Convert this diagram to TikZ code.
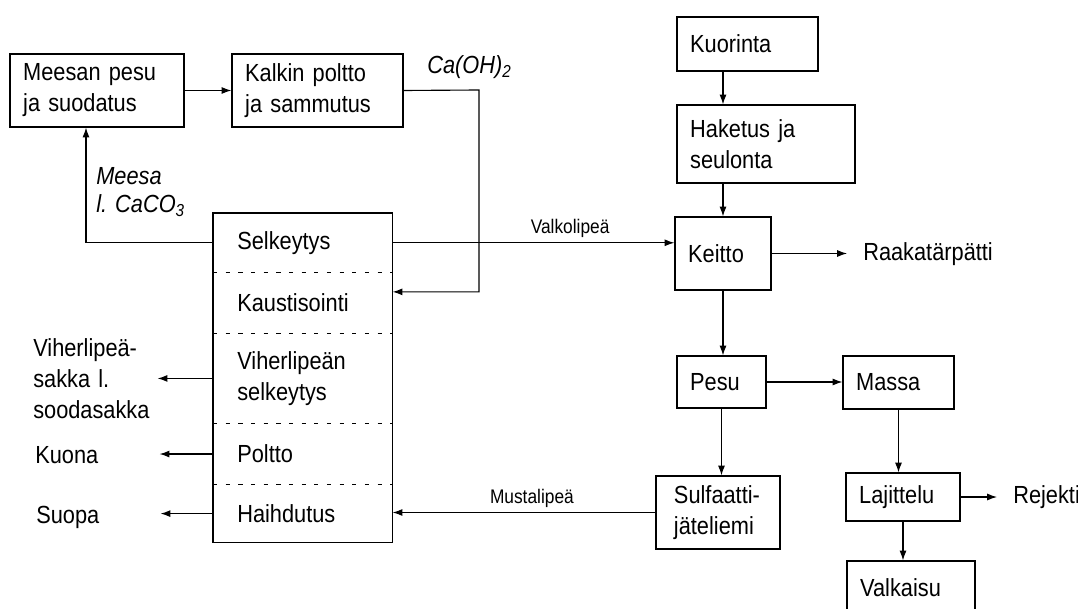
\documentclass[tikz,border=0pt]{standalone}
\usepackage{fontspec}
\setmainfont{Liberation Sans}[FakeStretch=0.88]
\usetikzlibrary{arrows.meta,positioning}

\begin{document}
\begin{tikzpicture}[x=0.025cm,y=-0.025cm,
  pbox/.style={draw,line width=0.8pt,align=left,inner xsep=0.33cm,inner ysep=0pt,
    font=\fontsize{17.6}{22}\selectfont},
  part/.style={align=left,inner xsep=0.6cm,inner ysep=0pt,text width=3.275cm,
    font=\fontsize{17.6}{22}\selectfont},
  outl/.style={align=left,inner sep=0pt,font=\fontsize{17.6}{22}\selectfont},
  outr/.style={outl,inner xsep=0.4cm},
  flowlbl/.style={font=\fontsize{14}{16}\selectfont,inner sep=0pt},
  chem/.style={align=left,inner sep=0pt,font=\fontsize{17.6}{20}\selectfont\itshape},
  flow/.style={-{Latex[length=7pt,width=5pt]},line width=0.8pt},
  sep/.style={dash pattern=on 3pt off 6pt,line width=0.6pt}
]
  \useasboundingbox (0,0) rectangle (1078,609);
  \clip (0,0) rectangle (1078,609);

  \node[pbox,text width=3.69cm,minimum height=1.825cm] (meesan) at (97,90.5) {Meesan pesu\\ja suodatus};
  \node[pbox,text width=3.615cm,minimum height=1.825cm] (kalkin) at (317.5,90.5) {Kalkin poltto\\ja sammutus};
  \node[chem,anchor=west] (caoh) at (427,67) {Ca(OH)\textsubscript{2}};
  \node[chem,anchor=west] (meesa) at (96,192) {Meesa\\l. CaCO\textsubscript{3}};

  \node[part,minimum height=1.475cm,anchor=north west] (sel) at (213,213) {Selkeytys};
  \node[part,minimum height=1.5cm,below=0pt of sel] (kaus) {Kaustisointi};
  \node[part,minimum height=2.25cm,below=0pt of kaus] (viher) {Viherlipeän\\selkeytys};
  \node[part,minimum height=1.5cm,below=0pt of viher] (poltto) {Poltto};
  \node[part,minimum height=1.45cm,below=0pt of poltto] (haih) {Haihdutus};
  \draw[line width=0.8pt] (sel.north west) rectangle (haih.south east);
  \foreach \a in {sel,kaus,viher,poltto}
    \draw[sep] (\a.south west) -- (\a.south east);

  \node[outl,anchor=west,text width=3.1cm] (sakka) at (33,379) {Viherlipeä-\\sakka l.\\soodasakka};
  \node[outl,anchor=west,text width=3.1cm] (kuona) at (35,455) {Kuona};
  \node[outl,anchor=west,text width=3.1cm] (suopa) at (36,517) {Suopa};

  \node[pbox,text width=2.865cm,minimum height=1.35cm] (kuor) at (747.5,44) {Kuorinta};
  \node[pbox,text width=3.79cm,minimum height=1.95cm] (haket) at (766,144) {Haketus ja\\seulonta};
  \node[pbox,text width=1.74cm,minimum height=1.825cm] (keitto) at (723,253.5) {Keitto};
  \node[pbox,text width=1.565cm,minimum height=1.3cm] (pesu) at (721.5,382) {Pesu};
  \node[pbox,text width=2.115cm,minimum height=1.325cm] (massa) at (898.5,382.5) {Massa};
  \node[pbox,inner xsep=0.45cm,text width=2.2cm,minimum height=1.825cm] (sulf) at (718,512.5) {Sulfaatti-\\jäteliemi};
  \node[pbox,text width=2.19cm,minimum height=1.2cm] (lajit) at (903,497) {Lajittelu};
  \node[pbox,text width=2.54cm,minimum height=1.35cm] (valk) at (911,588) {Valkaisu};
  \node[outr,anchor=west] (raaka) at (847,254) {Raakatärpätti};
  \node[outr,anchor=west] (rejekti) at (997,497) {Rejekti};

  \coordinate (bend) at (479,90);
  \draw[flow] (meesan) -- (kalkin);
  \draw[flow] (kalkin.east) -- (bend) |- ([yshift=0.275cm]kaus.east);
  \draw[flow] (sel.west) -| ([xshift=-0.275cm]meesan.south);
  \draw[flow] (sel.east) -- (sel.east -| keitto.west)
    node[flowlbl,pos=0.63,above=3pt] (valko) {Valkolipeä};
  \draw[flow] (sulf.west) -- (sulf.west -| haih.east)
    node[flowlbl,pos=0.47,above=3pt] (musta) {Mustalipeä};
  \draw[flow] (viher.west) -- (viher.west -| sakka.east);
  \draw[flow] (poltto.west) -- (poltto.west -| kuona.east);
  \draw[flow] (haih.west) -- (haih.west -| suopa.east);

  \draw[flow] (kuor.south -| keitto) -- (haket.north -| keitto);
  \draw[flow] (haket.south -| keitto) -- (keitto);
  \draw[flow] (keitto) -- (keitto.south |- pesu.north);
  \draw[flow] (keitto.east) -- (keitto.east -| raaka.west);
  \draw[flow] (pesu) -- (pesu.south |- sulf.north);
  \draw[flow] (pesu.east) -- (pesu.east -| massa.west);
  \draw[flow] (massa) -- (massa.south |- lajit.north);
  \draw[flow] (lajit) -- (lajit.south |- valk.north);
  \draw[flow] (lajit.east) -- (lajit.east -| rejekti.west);
\end{tikzpicture}
\end{document}
